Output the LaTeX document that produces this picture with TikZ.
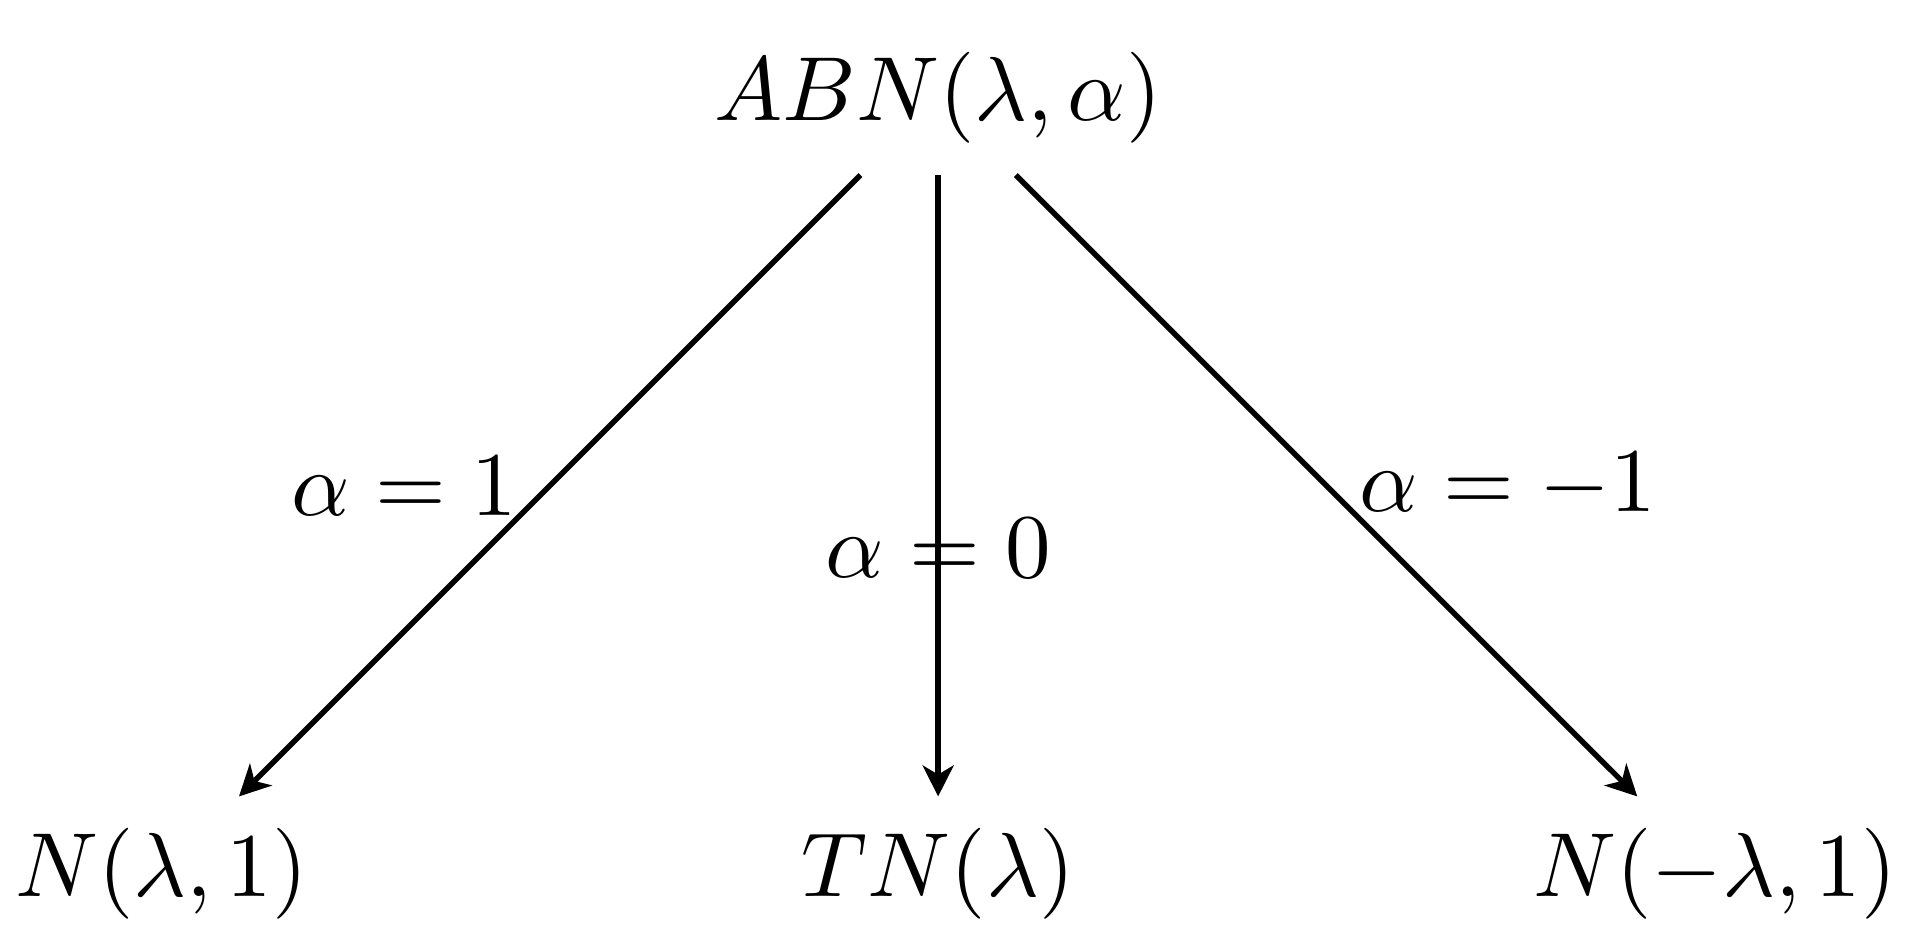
\documentclass[tikz,border=0pt]{standalone}
\usetikzlibrary{arrows.meta}
\begin{document}
\begin{tikzpicture}[
  conn/.style={semithick,-{Stealth[length=3.4pt,width=3.4pt,inset=1pt]}},
  dist/.style={inner sep=0.3333em}
]
\useasboundingbox (-103.1pt,-93.8pt) rectangle (109.0pt,10.7pt);
\node[dist] (abn) at (0,0) {$ABN(\lambda,\alpha)$};
\node[dist] (nl) at (-3,-3) {$N(\lambda,1)$};
\node[dist] (tn) at (0,-3) {$TN(\lambda)$};
\node[dist] (nr) at (3,-3) {$N(-\lambda,1)$};
\draw[conn] (abn) -- (nl) node[midway,left] {$\alpha=1$};
\draw[conn] (abn) -- (tn) node[pos=0.6] {$\alpha=0$};
\draw[conn] (abn) -- (nr) node[midway,right] {$\alpha=-1$};
\end{tikzpicture}
\end{document}
